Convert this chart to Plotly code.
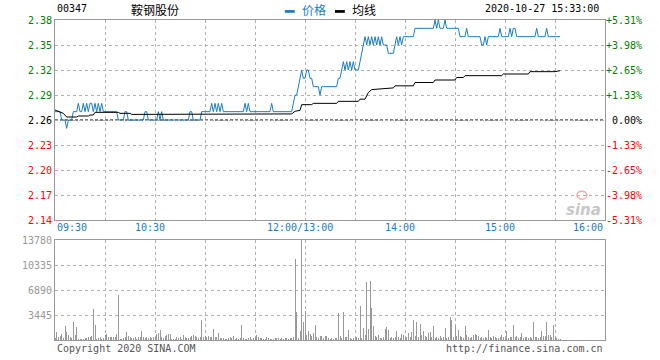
import plotly.graph_objects as go

# ---------------- data ----------------
stock_code = "00347"
stock_name = "鞍钢股份"
stamp = "2020-10-27 15:33:00"
prev_close = 2.26
am_start = "09:30"
pm_start = "13:00"

price_am = [
    2.27, 2.27, 2.27, 2.27, 2.26, 2.26, 2.26, 2.25, 2.26, 2.26,
    2.26, 2.27, 2.27, 2.27, 2.28, 2.27, 2.27, 2.28, 2.27, 2.28,
    2.27, 2.28, 2.28, 2.27, 2.28, 2.27, 2.28, 2.27, 2.28, 2.27,
    2.27, 2.27, 2.27, 2.27, 2.27, 2.27, 2.27, 2.27, 2.26, 2.26,
    2.26, 2.26, 2.27, 2.27, 2.26, 2.26, 2.26, 2.26, 2.26, 2.26,
    2.26, 2.26, 2.26, 2.26, 2.27, 2.27, 2.26, 2.26, 2.26, 2.26,
    2.26, 2.26, 2.27, 2.26, 2.27, 2.26, 2.26, 2.26, 2.26, 2.26,
    2.26, 2.26, 2.26, 2.26, 2.26, 2.26, 2.26, 2.26, 2.26, 2.26,
    2.26, 2.27, 2.27, 2.26, 2.26, 2.26, 2.26, 2.26, 2.27, 2.27,
    2.27, 2.27, 2.27, 2.27, 2.28, 2.27, 2.28, 2.27, 2.28, 2.27,
    2.28, 2.27, 2.27, 2.27, 2.27, 2.27, 2.27, 2.27, 2.27, 2.27,
    2.27, 2.27, 2.27, 2.27, 2.28, 2.27, 2.28, 2.27, 2.27, 2.27,
    2.27, 2.27, 2.27, 2.27, 2.27, 2.27, 2.27, 2.27, 2.27, 2.27,
    2.28, 2.27, 2.27, 2.27, 2.27, 2.27, 2.27, 2.27, 2.27, 2.27,
    2.27, 2.27, 2.27, 2.28, 2.29, 2.29, 2.30, 2.31, 2.32, 2.31,
    2.31,
]
price_pm = [
    2.31, 2.32, 2.32, 2.31, 2.31, 2.30, 2.30, 2.30, 2.30, 2.29,
    2.30, 2.30, 2.30, 2.30, 2.30, 2.30, 2.30, 2.30, 2.30, 2.30,
    2.31, 2.31, 2.32, 2.33, 2.32, 2.33, 2.32, 2.33, 2.32, 2.33,
    2.32, 2.32, 2.32, 2.33, 2.34, 2.35, 2.36, 2.35, 2.36, 2.35,
    2.36, 2.35, 2.36, 2.35, 2.36, 2.35, 2.36, 2.35, 2.35, 2.35,
    2.34, 2.34, 2.34, 2.34, 2.35, 2.36, 2.35, 2.36, 2.35, 2.36,
    2.36, 2.36, 2.36, 2.36, 2.36, 2.36, 2.37, 2.37, 2.37, 2.37,
    2.37, 2.37, 2.37, 2.37, 2.37, 2.37, 2.37, 2.37, 2.38, 2.37,
    2.38, 2.37, 2.37, 2.37, 2.38, 2.37, 2.37, 2.37, 2.37, 2.37,
    2.37, 2.37, 2.37, 2.36, 2.36, 2.36, 2.36, 2.37, 2.36, 2.36,
    2.36, 2.36, 2.36, 2.36, 2.36, 2.36, 2.35, 2.35, 2.36, 2.35,
    2.36, 2.36, 2.36, 2.36, 2.36, 2.36, 2.36, 2.37, 2.36, 2.36,
    2.36, 2.36, 2.36, 2.37, 2.36, 2.37, 2.37, 2.36, 2.36, 2.36,
    2.36, 2.36, 2.36, 2.36, 2.36, 2.36, 2.36, 2.36, 2.36, 2.37,
    2.36, 2.36, 2.36, 2.36, 2.36, 2.37, 2.36, 2.36, 2.36, 2.36,
    2.36, 2.36, 2.36, 2.36,
]

vol_am = [
    300, 1150, 370, 550, 830, 300, 1930, 1150, 690, 460,
    320, 2480, 690, 1790, 150, 90, 90, 140, 280, 280,
    370, 460, 550, 4270, 2070, 140, 320, 460, 140, 300,
    690, 830, 460, 370, 460, 370, 460, 830, 6200, 200,
    140, 280, 370, 1150, 550, 370, 280, 300, 460, 200,
    370, 460, 1240, 370, 280, 460, 300, 370, 280, 460,
    370, 830, 920, 1380, 370, 280, 550, 690, 780, 830,
    90, 190, 140, 370, 280, 370, 190, 690, 370, 280,
    230, 460, 550, 690, 550, 370, 230, 370, 2760, 370,
    550, 460, 550, 370, 460, 1520, 370, 460, 1010, 280,
    280, 230, 140, 190, 280, 370, 230, 550, 140, 230,
    140, 230, 2070, 230, 190, 140, 230, 460, 140, 230,
    460, 690, 370, 280, 230, 190, 140, 370, 280, 190,
    140, 190, 280, 230, 280, 190, 230, 140, 280, 230,
    190, 280, 230, 370, 11160, 3900, 230, 1290, 13780, 2530,
    300,
]
vol_pm = [
    3670, 640, 1290, 830, 550, 950, 2070, 370, 230, 550,
    550, 230, 550, 550, 280, 140, 280, 190, 280, 230,
    3760, 550, 230, 3900, 370, 460, 1380, 230, 190, 280,
    230, 370, 280, 4690, 280, 1700, 690, 8040, 1470, 8130,
    4410, 1930, 550, 460, 690, 280, 230, 370, 1520, 1790,
    1380, 280, 370, 230, 460, 1240, 370, 280, 830, 690,
    280, 460, 920, 370, 1150, 2760, 550, 2530, 460, 2210,
    750, 1290, 550, 370, 920, 1100, 370, 1930, 280, 370,
    230, 550, 280, 370, 1700, 230, 370, 3210, 2760, 370,
    1930, 550, 1380, 550, 370, 280, 1930, 690, 370, 230,
    370, 690, 830, 740, 550, 280, 370, 230, 370, 280,
    1380, 370, 280, 550, 370, 280, 230, 370, 640, 370,
    230, 1240, 280, 370, 460, 2070, 370, 550, 280, 370,
    920, 230, 370, 460, 280, 370, 230, 2480, 370, 370,
    280, 370, 1290, 550, 550, 2530, 640, 690, 370, 2070,
    370, 280, 190, 190,
]

avg_times = [
    "09:30", "09:33", "09:35", "09:37", "09:43", "09:44", "09:50", "09:51",
    "09:53", "09:54", "10:08", "10:09", "10:15", "10:16", "11:22", "11:23",
    "11:52", "11:54", "11:57", "11:58", "12:00",
    "13:00", "13:04", "13:05", "13:19", "13:20", "13:32", "13:33", "13:36",
    "13:38", "13:40", "13:53", "13:54", "14:05", "14:06", "14:17", "14:18",
    "14:30", "14:31", "14:35", "14:36", "14:58", "14:59", "15:14", "15:15",
    "15:30", "15:33",
]
avg_vals = [
    2.2720, 2.2700, 2.2680, 2.2636, 2.2636, 2.2648, 2.2648, 2.2660,
    2.2660, 2.2692, 2.2692, 2.2680, 2.2680, 2.2667, 2.2667, 2.2673,
    2.2673, 2.2705, 2.2715, 2.2784, 2.2784,
    2.2784, 2.2784, 2.2800, 2.2800, 2.2824, 2.2824, 2.2850, 2.2850,
    2.2930, 2.2965, 2.2985, 2.3010, 2.3010, 2.3050, 2.3050, 2.3080,
    2.3080, 2.3110, 2.3110, 2.3132, 2.3132, 2.3152, 2.3152, 2.3180,
    2.3180, 2.3192,
]

price_ticks = [2.14, 2.17, 2.20, 2.23, 2.26, 2.29, 2.32, 2.35, 2.38]
vol_ticks = [3445, 6890, 10335, 13780]
grid_times = ["10:00", "10:30", "11:00", "11:30", "12:00", "13:30",
              "14:00", "14:30", "15:00", "15:30"]
time_labels = ["09:30", "10:30", "12:00/13:00", "14:00", "15:00", "16:00"]
session_end = "16:00"


# ---------------- helpers ----------------
def to_idx(t):
    h, m = map(int, t.split("/")[0].split(":"))
    mins = h * 60 + m
    if mins <= 12 * 60:
        return mins - (9 * 60 + 30)
    return mins - 13 * 60 + 150


am_x = [to_idx(am_start) + i for i in range(len(price_am))]
pm_x = [to_idx(pm_start) + i for i in range(len(price_pm))]
all_x = am_x + pm_x
all_p = price_am + price_pm
all_v = vol_am + vol_pm
avg_x = [to_idx(t) for t in avg_times]
x_end = to_idx(session_end)

GREEN, RED, BLACK = "#008000", "#ff0000", "#000000"
BLUE = "#1a7cc9"
MONO = "DejaVu Sans Mono"
CJK = "Noto Sans CJK SC"


def pcolor(p):
    if abs(p - prev_close) < 1e-9:
        return BLACK
    return GREEN if p > prev_close else RED


price_text = [f"<span style='color:{pcolor(p)}'>{p:.2f}</span>" for p in price_ticks]
pct_ticks = [(p / prev_close - 1) * 100 for p in price_ticks]
pct_text = []
for p, v in zip(price_ticks, pct_ticks):
    s = "\u00a00.00%" if abs(v) < 0.005 else f"{v:+.2f}%"
    pct_text.append(f"<span style='color:{pcolor(p)}'>{s}</span>")
pct_all = [(p / prev_close - 1) * 100 for p in all_p]

fig = go.Figure()
fig.add_trace(go.Scatter(x=all_x, y=all_p, mode="lines", name="价格",
                         line=dict(color=BLUE, width=1), xaxis="x", yaxis="y"))
fig.add_trace(go.Scatter(x=avg_x, y=avg_vals, mode="lines", name="均线",
                         line=dict(color="#000000", width=1), xaxis="x", yaxis="y"))
fig.add_trace(go.Scatter(x=all_x, y=pct_all, mode="lines", opacity=0,
                         line=dict(width=0), hoverinfo="skip", showlegend=False,
                         xaxis="x", yaxis="y2"))
fig.add_trace(go.Bar(x=all_x, y=all_v, width=0.6, marker=dict(color="#999999", line=dict(width=0)),
                     xaxis="x2", yaxis="y3", showlegend=False))

grid_x = [to_idx(t) for t in grid_times]
pr = [price_ticks[0], price_ticks[-1]]
pct_range = [(pr[0] / prev_close - 1) * 100, (pr[1] / prev_close - 1) * 100]

common_x = dict(range=[0, x_end], tickvals=grid_x, showticklabels=False, ticks="",
                showgrid=True, gridcolor="#b0b0b0", griddash="dot", gridwidth=1,
                showline=True, mirror=True, linecolor="#999999", linewidth=1, zeroline=False,
                automargin=False)

fig.update_layout(
    width=660, height=360,
    margin=dict(l=55, r=55, t=20, b=20, autoexpand=False),
    paper_bgcolor="white", plot_bgcolor="white",
    showlegend=False, bargap=0,
    xaxis=dict(domain=[0, 1], anchor="y", **common_x),
    xaxis2=dict(domain=[0, 1], anchor="y3", **common_x),
    yaxis=dict(domain=[0.375, 1], range=pr, tickvals=price_ticks, ticktext=price_text,
               showgrid=True, gridcolor="#b0b0b0", griddash="dot", ticks="",
               showline=True, mirror=True, linecolor="#999999", zeroline=False,
               automargin=False, tickfont=dict(family=MONO, size=10)),
    yaxis2=dict(overlaying="y", side="right", anchor="x", range=pct_range,
                tickvals=pct_ticks, ticktext=pct_text, showgrid=False, ticks="",
                showline=False, zeroline=False, automargin=False,
                tickfont=dict(family=MONO, size=10)),
    yaxis3=dict(domain=[0, 0.3125], range=[0, vol_ticks[-1]], tickvals=vol_ticks,
                ticktext=[str(v) for v in vol_ticks], showgrid=True, gridcolor="#b0b0b0",
                griddash="dot", ticks="", showline=True, mirror=True, linecolor="#999999",
                zeroline=False, automargin=False,
                tickfont=dict(family=MONO, size=10, color="#999999")),
)

# previous close reference line
fig.add_shape(type="line", xref="x", yref="y", x0=0, x1=x_end, y0=prev_close, y1=prev_close,
              line=dict(color="black", width=1, dash="3px,2px"), layer="below")

# time labels under the price panel
for i, t in enumerate(time_labels):
    anchor = "left" if i == 0 else ("right" if i == len(time_labels) - 1 else "center")
    fig.add_annotation(x=to_idx(t), y=0.351, xref="x", yref="paper", text=t,
                       showarrow=False, xanchor=anchor, yanchor="middle",
                       xshift=0 if anchor != "center" else -5,
                       font=dict(family=MONO, size=10, color=BLUE))

# header
fig.add_annotation(x=0, y=1.036, xref="paper", yref="paper", text=stock_code, showarrow=False,
                   xanchor="left", yanchor="middle", font=dict(family=MONO, size=10, color="black"))
fig.add_annotation(x=0.134, y=1.033, xref="paper", yref="paper", text=stock_name, showarrow=False,
                   xanchor="left", yanchor="middle", font=dict(family=CJK, size=12, color="black"))
fig.add_annotation(x=0.445, y=1.033, xref="paper", yref="paper", text="价格", showarrow=False,
                   xanchor="left", yanchor="middle", font=dict(family=CJK, size=12, color=BLUE))
fig.add_annotation(x=0.536, y=1.033, xref="paper", yref="paper", text="均线", showarrow=False,
                   xanchor="left", yanchor="middle", font=dict(family=CJK, size=12, color="black"))
fig.add_shape(type="rect", xref="paper", yref="paper", x0=0.418, x1=0.436, y0=1.0225, y1=1.031,
              fillcolor=BLUE, line=dict(width=0))
fig.add_shape(type="rect", xref="paper", yref="paper", x0=0.509, x1=0.527, y0=1.0225, y1=1.031,
              fillcolor="black", line=dict(width=0))
fig.add_annotation(x=0.993, y=1.036, xref="paper", yref="paper", text=stamp, showarrow=False,
                   xanchor="right", yanchor="middle", font=dict(family=MONO, size=10, color="black"))

# footer
fig.add_annotation(x=0, y=-0.028, xref="paper", yref="paper", text="Copyright 2020 SINA.COM",
                   showarrow=False, xanchor="left", yanchor="middle",
                   font=dict(family=MONO, size=10, color="#555555"))
fig.add_annotation(x=1, y=-0.028, xref="paper", yref="paper", text="http://finance.sina.com.cn",
                   showarrow=False, xanchor="right", yanchor="middle",
                   font=dict(family=MONO, size=10, color="#555555"))

# watermark
fig.add_annotation(x=0.96, y=0.405, xref="paper", yref="paper", text="<b><i>sina</i></b>",
                   showarrow=False, xanchor="center", yanchor="middle",
                   font=dict(family="DejaVu Sans", size=15, color="#c8c8c8"))
fig.add_shape(type="circle", xref="paper", yref="paper", x0=0.949, x1=0.967, y0=0.44, y1=0.465,
              line=dict(color="#eeaaaa", width=1.5))

fig.write_html("out.html", config={"displayModeBar": False, "staticPlot": True},
               post_script="document.body.style.margin='0';")
